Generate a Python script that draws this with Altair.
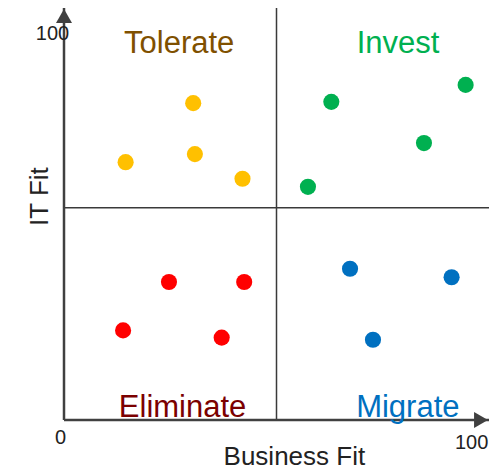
import altair as alt
import pandas as pd

# Data (Business Fit, IT Fit) per quadrant
tolerate_x = [30.4, 14.5, 30.8, 42.0]
tolerate_y = [74.6, 60.7, 62.6, 56.8]
invest_x = [62.9, 94.5, 84.7, 57.4]
invest_y = [74.9, 78.9, 65.2, 54.9]
eliminate_x = [24.7, 42.4, 13.9, 37.1]
eliminate_y = [32.5, 32.5, 21.1, 19.4]
migrate_x = [67.3, 91.2, 72.7]
migrate_y = [35.6, 33.6, 18.9]

groups = ["Tolerate", "Invest", "Eliminate", "Migrate"]
point_colors = ["#FFC000", "#00B050", "#FF0000", "#0070C0"]
label_colors = ["#7F5000", "#00B050", "#7B0000", "#0070C0"]
label_x = [27.1, 78.6, 27.9, 80.9]
label_y = [86.3, 86.3, 0.65, 0.7]

rows = []
for g, xs_, ys_ in zip(groups, [tolerate_x, invest_x, eliminate_x, migrate_x],
                       [tolerate_y, invest_y, eliminate_y, migrate_y]):
    for a, b in zip(xs_, ys_):
        rows.append({"group": g, "x": a, "y": b})
points_df = pd.DataFrame(rows)
labels_df = pd.DataFrame({"quadrant": groups, "x": label_x, "y": label_y})

XMAX = 100
YMAX = 97
W, H = 425, 412
xs = alt.Scale(domain=[0, XMAX], nice=False, zero=False)
ys = alt.Scale(domain=[0, YMAX], nice=False, zero=False)
X = lambda f="x": alt.X(f, type="quantitative", scale=xs, axis=None)
Y = lambda f="y": alt.Y(f, type="quantitative", scale=ys, axis=None)

# Axes lines
axis_df = pd.DataFrame({"x": [0, 0], "y": [0, 0], "x2": [XMAX, 0], "y2": [0, YMAX]})
axes = alt.Chart(axis_df).mark_rule(color="#404040", strokeWidth=2.5).encode(
    x=X(), y=Y(), x2="x2", y2="y2")

# Quadrant dividers
quad_df = pd.DataFrame({"x": [50, 0], "y": [0, 50], "x2": [50, XMAX], "y2": [YMAX, 50]})
quads = alt.Chart(quad_df).mark_rule(color="#3a3a3a", strokeWidth=1.5).encode(
    x=X(), y=Y(), x2="x2", y2="y2")

# Arrowheads
arrow_up = alt.Chart(pd.DataFrame({"x": [0], "y": [YMAX - 8 * YMAX / H]})).mark_point(
    shape="triangle-up", size=256, filled=True, opacity=1, color="#404040").encode(x=X(), y=Y())
arrow_right = alt.Chart(pd.DataFrame({"x": [XMAX - 8 * XMAX / W], "y": [0]})).mark_point(
    shape="triangle-right", size=256, filled=True, opacity=1, color="#404040").encode(x=X(), y=Y())

pts = alt.Chart(points_df).mark_circle(size=260, opacity=1).encode(
    x=X(), y=Y(),
    color=alt.Color("group:N", scale=alt.Scale(domain=groups, range=point_colors), legend=None))

labels = alt.Chart(labels_df).mark_text(
    fontSize=31, font="Liberation Sans", baseline="alphabetic", align="center").encode(
    x=X(), y=Y(), text="quadrant:N",
    color=alt.Color("quadrant:N", scale=alt.Scale(domain=groups, range=label_colors), legend=None))

tick_df = pd.DataFrame({"t": ["100", "0", "100"], "x": [-2.7, -0.8, 95.9], "y": [90.8, -4.25, -5.5]})
ticks = alt.Chart(tick_df).mark_text(
    fontSize=20, font="Liberation Sans", baseline="middle", align="center", color="#222222").encode(
    x=X(), y=Y(), text="t:N")

xtitle = alt.Chart(pd.DataFrame({"t": ["Business Fit"], "x": [54.2], "y": [-10.6]})).mark_text(
    fontSize=26, font="Liberation Sans", baseline="alphabetic", align="center", color="#222222").encode(
    x=X(), y=Y(), text="t:N")
ytitle = alt.Chart(pd.DataFrame({"t": ["IT Fit"], "x": [-5.75], "y": [52.6]})).mark_text(
    fontSize=26, font="Liberation Sans", baseline="middle", align="center", angle=270, color="#222222").encode(
    x=X(), y=Y(), text="t:N")

chart = alt.layer(quads, axes, arrow_up, arrow_right, pts, labels, ticks, xtitle, ytitle).resolve_scale(
    color="independent"
).properties(
    width=W, height=H,
    autosize=alt.AutoSizeParams(type="none"),
    padding={"left": 56, "top": 0, "right": 0, "bottom": 48},
).configure_view(stroke=None)

chart.save("out.html", embed_options={"renderer": "svg", "actions": False})
